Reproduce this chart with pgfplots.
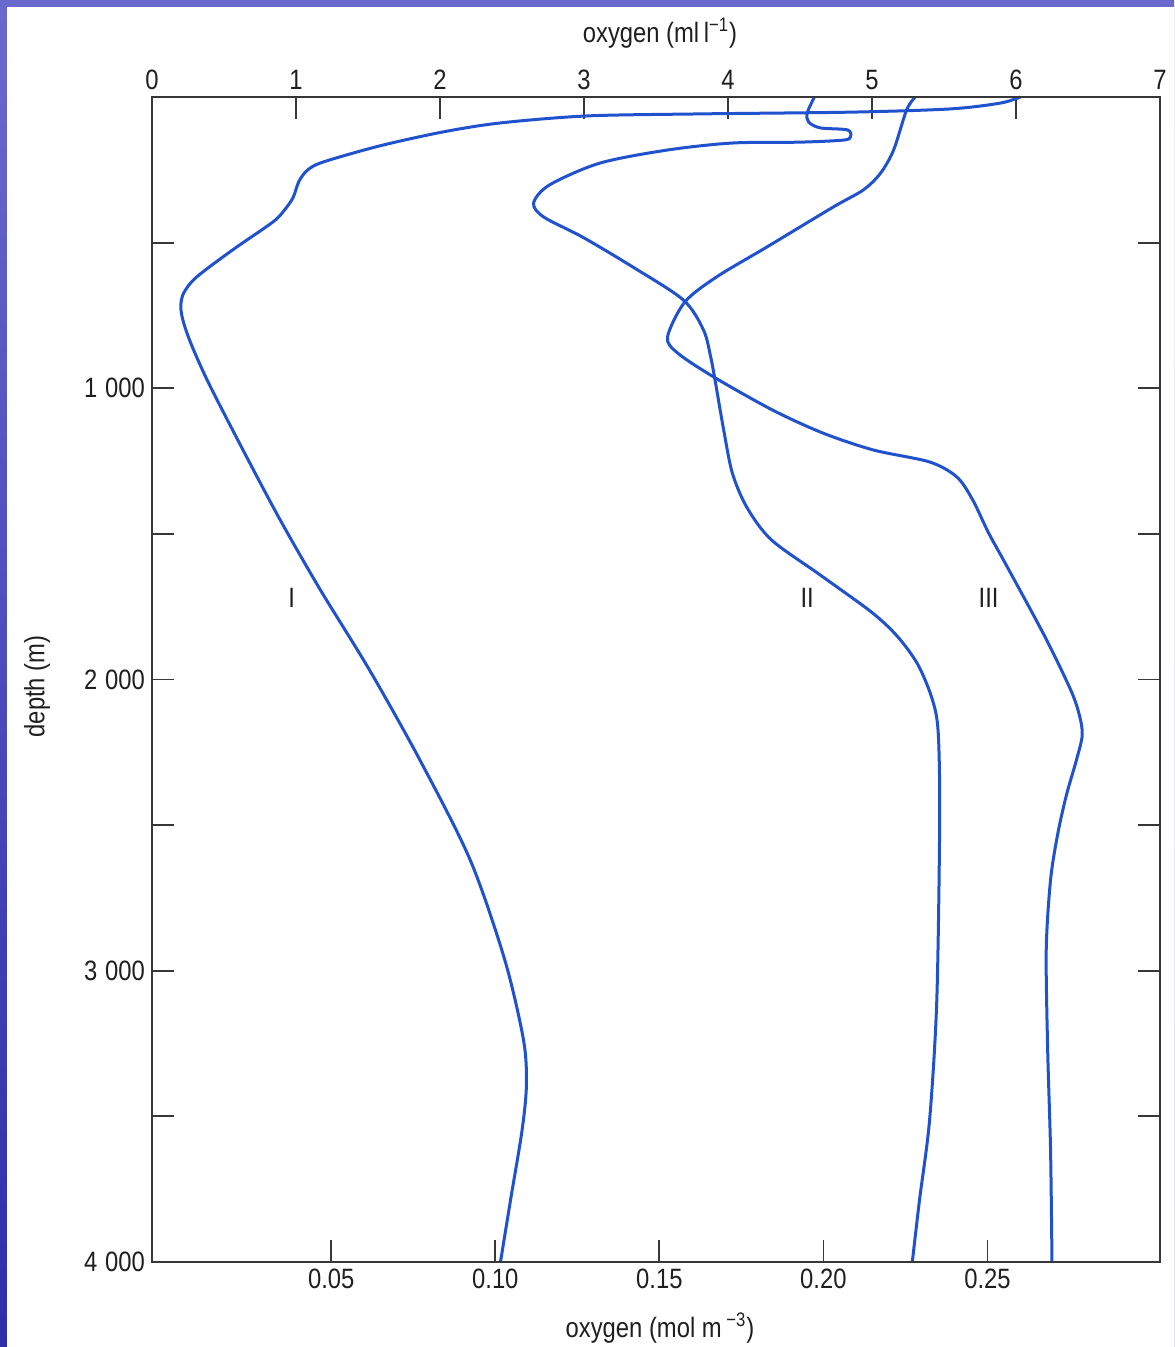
\documentclass[border=0pt]{standalone}
\usepackage{fontspec}
\setmainfont{Liberation Sans}[FakeStretch=0.85]
\usepackage{pgfplots}
\pgfplotsset{compat=1.18}
\definecolor{curve}{RGB}{32,82,205}
\definecolor{slidetop}{RGB}{105,105,205}
\definecolor{slidebot}{RGB}{45,45,170}
\definecolor{axgray}{RGB}{55,55,55}
\newcommand{\lab}{\fontsize{14}{14}\selectfont}
\newcommand{\thsp}{\hspace{0.28em}}
\begin{document}
\begin{tikzpicture}[x=1pt,y=1pt]
% 1 px of the reference = 0.5 pt; axis lower-left corner at px (152,1262)
\shade[top color=slidetop, bottom color=slidebot] (-76,-42.5) rectangle (511,631);
\fill[white] (-72.5,-42.5) rectangle (511,627.5);
\begin{axis}[
  at={(0,0)}, anchor=south west,
  scale only axis, width=504pt, height=582.5pt,
  xmin=0, xmax=7, ymin=0, ymax=4000, y dir=reverse,
  xtick={0,...,7}, xtick pos=upper, xticklabel pos=upper,
  ytick={0,500,...,4000}, yticklabels={,,1\thsp000,,2\thsp000,,3\thsp000,,4\thsp000},
  ytick pos=both, yticklabel pos=left,
  tick align=inside, major tick length=11pt,
  tick style={axgray, line width=0.9pt},
  axis line style={axgray, line width=0.9pt},
  /pgf/number format/assume math mode=true,
  ticklabel style={font=\lab, text=black!88},
  clip=false,
]
% Curve I
\addplot[curve, line width=1.5pt, smooth, tension=0.5] coordinates {
(6.03,0) (5.89,21) (5.54,41) (4.85,52) (3.81,58) (3.02,65) (2.42,89)
(2.02,120) (1.58,168) (1.19,223) (1.08,251) (1.02,290) (0.98,345)
(0.92,388) (0.84,429) (0.56,525) (0.31,618) (0.22,673) (0.20,721)
(0.22,776) (0.28,858) (0.40,989)
(0.65,1229) (0.89,1452) (1.17,1693) (1.51,1967) (1.86,2276) (2.21,2620)
(2.45,2963) (2.58,3238) (2.60,3392) (2.57,3547) (2.49,3787) (2.42,4000)};
% Curve II
\addplot[curve, line width=1.5pt, smooth, tension=0.5] coordinates {
(4.60,0) (4.55,55) (4.56,86) (4.64,106) (4.83,113) (4.85,137) (4.80,148)
(4.50,155) (4.03,158) (3.58,182) (3.11,227) (2.76,302) (2.65,364)
(2.72,412) (2.99,481) (3.34,584) (3.69,697) (3.83,800) (3.88,893)
(3.91,972) (3.97,1143) (4.03,1291) (4.13,1408) (4.30,1520) (4.64,1641)
(5.00,1770) (5.18,1854) (5.32,1950) (5.42,2070) (5.46,2184) (5.47,2482)
(5.45,3101) (5.40,3512) (5.33,3787) (5.28,4000)};
% Curve III
\addplot[curve, line width=1.5pt, smooth, tension=0.5] coordinates {
(5.30,0) (5.24,45) (5.15,182) (5.06,261) (4.94,319) (4.73,378)
(4.27,515) (3.92,618) (3.70,704) (3.58,824) (3.65,879) (3.90,961)
(4.31,1075) (4.66,1154) (5.01,1212) (5.40,1253) (5.59,1305) (5.70,1384)
(5.81,1497) (5.94,1614) (6.20,1852) (6.38,2036) (6.44,2122) (6.46,2191)
(6.42,2276) (6.35,2397) (6.29,2530)
(6.24,2688) (6.21,2929) (6.22,3272) (6.24,3615) (6.25,4000)};
\node[font=\lab, text=black!88] at (axis cs:0.97,1720) {I};
\node[font=\lab, text=black!88] at (axis cs:4.55,1720) {II};
\node[font=\lab, text=black!88] at (axis cs:5.81,1720) {III};
\node[font=\lab, text=black!88] at (rel axis cs:0.504,1) [yshift=32pt] {oxygen (ml\,l\textsuperscript{−1})};
\node[font=\lab, text=black!88] at (rel axis cs:0.504,0) [yshift=-33pt] {oxygen (mol m\,\textsuperscript{−3})};
\node[font=\lab, text=black!88, rotate=90] at (rel axis cs:-0.114,0.494) {depth (m)};
\end{axis}
\begin{axis}[
  at={(0,0)}, anchor=south west,
  scale only axis, width=504pt, height=582.5pt,
  xmin=-0.00464, xmax=0.3026, ymin=0, ymax=1,
  xtick={0.05,0.10,0.15,0.20,0.25}, xticklabels={0.05,0.10,0.15,0.20,0.25},
  xtick pos=lower, ytick=\empty,
  tick align=inside, major tick length=11pt,
  tick style={axgray, line width=0.9pt},
  axis line style={axgray, line width=0.9pt},
  ticklabel style={font=\lab, text=black!88},
]
\end{axis}
\pgfresetboundingbox
\path[use as bounding box] (-76,-42.5) rectangle (511,631);
\end{tikzpicture}
\end{document}
